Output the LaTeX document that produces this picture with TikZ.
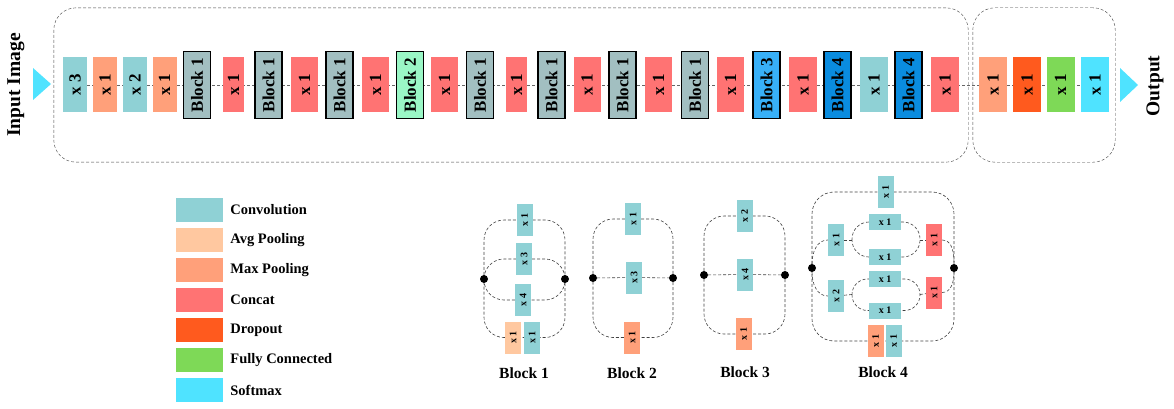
\documentclass[tikz,border=0pt]{standalone}
\usepackage{fontspec}
\setmainfont{Liberation Serif}
\usepackage{graphicx}
\usetikzlibrary{positioning,fit,backgrounds}
\definecolor{convc}{HTML}{8FD1D5}
\definecolor{avgc}{HTML}{FFC8A0}
\definecolor{maxc}{HTML}{FFA07A}
\definecolor{catc}{HTML}{FF7373}
\definecolor{dropc}{HTML}{FF5A1E}
\definecolor{fcc}{HTML}{7ED957}
\definecolor{smc}{HTML}{4FE3FF}
\definecolor{blka}{HTML}{A2BFC1}
\definecolor{blkb}{HTML}{9AF7C6}
\definecolor{blkc}{HTML}{38B0F8}
\definecolor{blkd}{HTML}{0A8CDF}
\newcommand{\vt}[1]{\rotatebox{90}{#1}}
\tikzset{
    lay/.style={minimum width=24pt, minimum height=55pt, inner sep=0pt, font=\fontsize{17}{17}\selectfont\bfseries},
    blk/.style={lay, draw=black, line width=1.3pt, minimum width=27pt, minimum height=67pt},
    small/.style={minimum width=16pt, minimum height=32pt, inner sep=0pt, font=\fontsize{10}{10}\selectfont\bfseries},
    flat/.style={small, minimum width=32pt, minimum height=16pt},
    swatch/.style={minimum width=47pt, minimum height=24pt, inner sep=0pt},
    key/.style={inner sep=0pt, font=\fontsize{14.5}{14.5}\selectfont\bfseries},
    blocklabel/.style={inner sep=0pt, font=\fontsize{15.5}{15.5}\selectfont\bfseries},
    side/.style={inner sep=0pt, font=\fontsize{19.5}{19.5}\selectfont\bfseries},
    grp/.style={draw=black!75, densely dashed, rounded corners=22pt, inner xsep=9pt, inner ysep=43pt},
    link/.style={draw=black!75, densely dashed, line width=0.6pt},
    dot/.style={circle, fill=black, inner sep=0pt, minimum size=8pt},
    conv/.style={fill=convc}, avg/.style={fill=avgc}, maxp/.style={fill=maxc},
    cat/.style={fill=catc}, drop/.style={fill=dropc}, fc/.style={fill=fcc}, soft/.style={fill=smc}
}
\begin{document}
\begin{tikzpicture}[x=1pt,y=-1pt]
        \useasboundingbox (0,0) rectangle (1174,409);
        \fill[smc] (33,68) -- (51,84) -- (33,100) -- cycle;
        \fill[smc] (1120,68) -- (1138,85) -- (1120,102) -- cycle;
        \node[side] (inlbl) at (16,85) {\vt{Input Image}};
        \node[side] (outlbl) at (1155,86) {\vt{Output}};
        \node[lay,conv] (m1) at (75,85) {\vt{x 3}};
        \node[lay,maxp] (m2) at (105,85) {\vt{x 1}};
        \node[lay,conv] (m3) at (135,85) {\vt{x 2}};
        \node[lay,maxp] (m4) at (164.5,85) {\vt{x 1}};
        \node[blk,fill=blka] (m5) at (197,85) {\vt{Block 1}};
        \node[lay,cat,minimum width=21pt] (m6) at (233.5,85) {\vt{x 1}};
        \node[blk,fill=blka] (m7) at (268.5,85) {\vt{Block 1}};
        \node[lay,cat,minimum width=27pt] (m8) at (304.5,85) {\vt{x 1}};
        \node[blk,fill=blka] (m9) at (339.5,85) {\vt{Block 1}};
        \node[lay,cat,minimum width=27pt] (m10) at (375.5,85) {\vt{x 1}};
        \node[blk,fill=blkb] (m11) at (410,85) {\vt{Block 2}};
        \node[lay,cat,minimum width=27pt] (m12) at (444.5,85) {\vt{x 1}};
        \node[blk,fill=blka] (m13) at (480,85) {\vt{Block 1}};
        \node[lay,cat,minimum width=21pt] (m14) at (516.5,85) {\vt{x 1}};
        \node[blk,fill=blka] (m15) at (551.5,85) {\vt{Block 1}};
        \node[lay,cat,minimum width=27pt] (m16) at (587,85) {\vt{x 1}};
        \node[blk,fill=blka] (m17) at (622.5,85) {\vt{Block 1}};
        \node[lay,cat,minimum width=27pt] (m18) at (658.5,85) {\vt{x 1}};
        \node[blk,fill=blka] (m19) at (695,85) {\vt{Block 1}};
        \node[lay,cat,minimum width=27pt] (m20) at (730.5,85) {\vt{x 1}};
        \node[blk,fill=blkc] (m21) at (766.5,85) {\vt{Block 3}};
        \node[lay,cat,minimum width=28pt] (m22) at (803,85) {\vt{x 1}};
        \node[blk,fill=blkd] (m23) at (837.5,85) {\vt{Block 4}};
        \node[lay,conv,minimum width=28pt] (m24) at (874,85) {\vt{x 1}};
        \node[blk,fill=blkd] (m25) at (908.5,85) {\vt{Block 4}};
        \node[lay,cat,minimum width=28pt] (m26) at (945,85) {\vt{x 1}};
        \node[lay,maxp,minimum width=28pt] (m27) at (993,85) {\vt{x 1}};
        \node[lay,drop,minimum width=28pt] (m28) at (1027,85) {\vt{x 1}};
        \node[lay,fc,minimum width=28pt] (m29) at (1060.5,85) {\vt{x 1}};
        \node[lay,soft,minimum width=28pt] (m30) at (1095,85) {\vt{x 1}};
        \node[grp, fit=(m1)(m5)(m26)] (body) {};
        \node[grp, fit=(m27)(m30), inner xsep=6pt, inner ysep=49.5pt] (head) {};

        \node[swatch,conv] (lg1) at (199.5,210) {};
        \node[swatch,avg,below=5.6pt of lg1] (lg2) {};
        \node[swatch,maxp,below=5.6pt of lg2] (lg3) {};
        \node[swatch,cat,below=5.6pt of lg3] (lg4) {};
        \node[swatch,drop,below=5.6pt of lg4] (lg5) {};
        \node[swatch,fc,below=5.6pt of lg5] (lg6) {};
        \node[swatch,soft,below=5.6pt of lg6] (lg7) {};
        \node[key,right=7pt of lg1] (tx1) {Convolution};
        \node[key,right=7pt of lg2] (tx2) {Avg Pooling};
        \node[key,right=7pt of lg3] (tx3) {Max Pooling};
        \node[key,right=7pt of lg4] (tx4) {Concat};
        \node[key,right=7pt of lg5] (tx5) {Dropout};
        \node[key,right=7pt of lg6] (tx6) {Fully Connected};
        \node[key,right=7pt of lg7] (tx7) {Softmax};

        \node[dot] (p1l) at (484,279) {};
        \node[dot] (p1r) at (565,279) {};
        \node[small,conv] (q11) at (524.5,220) {\vt{x 1}};
        \node[small,conv] (q12) at (524,259) {\vt{x 3}};
        \node[small,conv] (q13) at (523,300) {\vt{x 4}};
        \node[small,avg] (q14) at (513,337.5) {\vt{x 1}};
        \node[small,conv] (q15) at (532,337.5) {\vt{x 1}};
        \node[blocklabel] (lb1) at (524,373) {Block 1};

        \node[dot] (p2l) at (593,278) {};
        \node[dot] (p2r) at (673,278) {};
        \node[small,conv] (q21) at (633,219) {\vt{x 1}};
        \node[small,conv] (q22) at (634,277.5) {\vt{x 3}};
        \node[small,maxp] (q23) at (632,337.5) {\vt{x 1}};
        \node[blocklabel] (lb2) at (632,373) {Block 2};

        \node[dot] (p3l) at (704,275) {};
        \node[dot] (p3r) at (785,275) {};
        \node[small,conv] (q31) at (744.5,216) {\vt{x 2}};
        \node[small,conv] (q32) at (745,274.5) {\vt{x 4}};
        \node[small,maxp] (q33) at (743.5,334) {\vt{x 1}};
        \node[blocklabel] (lb3) at (745,372) {Block 3};

        \node[dot] (p4l) at (812,268) {};
        \node[dot] (p4r) at (954,268) {};
        \node[small,conv] (q40) at (885.5,192) {\vt{x 1}};
        \node[small,conv] (q41) at (836,240) {\vt{x 1}};
        \node[flat,conv] (q42) at (885,222) {x 1};
        \node[flat,conv] (q43) at (885,257) {x 1};
        \node[small,cat] (q44) at (934,240) {\vt{x 1}};
        \node[small,conv] (q45) at (836,296) {\vt{x 2}};
        \node[flat,conv] (q46) at (885,279) {x 1};
        \node[flat,conv] (q47) at (885,310.5) {x 1};
        \node[small,cat] (q48) at (934,292.5) {\vt{x 1}};
        \node[small,maxp] (q49) at (875.5,341) {\vt{x 1}};
        \node[small,conv] (q50) at (893.5,341) {\vt{x 1}};
        \coordinate (s1l) at (852,240);
        \coordinate (s1r) at (920,240);
        \coordinate (s2l) at (852,294.5);
        \coordinate (s2r) at (920,294.5);
        \node[blocklabel] (lb4) at (883,372) {Block 4};

        \begin{scope}[on background layer]
        \draw[black!60, densely dashed, line width=0.6pt] (m1) -- (m30);
        \draw[link, rounded corners=20pt] (p1l) |- (q11) -| (p1r) |- (q14) -| (p1l);
        \draw[link, rounded corners=20pt] (p1l) |- (q12) -| (p1r) |- (q13) -| (p1l);
        \draw[link, rounded corners=20pt] (p2l) |- (q21) -| (p2r) |- (q23) -| (p2l);
        \draw[link] (p2l) -- (q22) -- (p2r);
        \draw[link, rounded corners=20pt] (p3l) |- (q31) -| (p3r) |- (q33) -| (p3l);
        \draw[link] (p3l) -- (q32) -- (p3r);
        \draw[link, rounded corners=22pt] (p4l) |- (q40) -| (p4r) |- (q49) -| (p4l);
        \draw[link, rounded corners=17pt] (q42.center -| s1l) rectangle (q43.center -| s1r);
        \draw[link, rounded corners=15.5pt] (q46.center -| s2l) rectangle (q47.center -| s2r);
        \draw[link] (q41) -- (s1l);
        \draw[link] (s1r) -- (q44);
        \draw[link] (q45) -- (s2l);
        \draw[link] (s2r) -- (q48);
        \draw[link] (p4l) to[out=90,in=180] (q41.west);
        \draw[link] (p4l) to[out=-90,in=180] (q45.west);
        \draw[link] (q44.east) to[out=0,in=90] (p4r);
        \draw[link] (q48.east) to[out=0,in=-90] (p4r);
        \end{scope}
    \end{tikzpicture}
\end{document}
